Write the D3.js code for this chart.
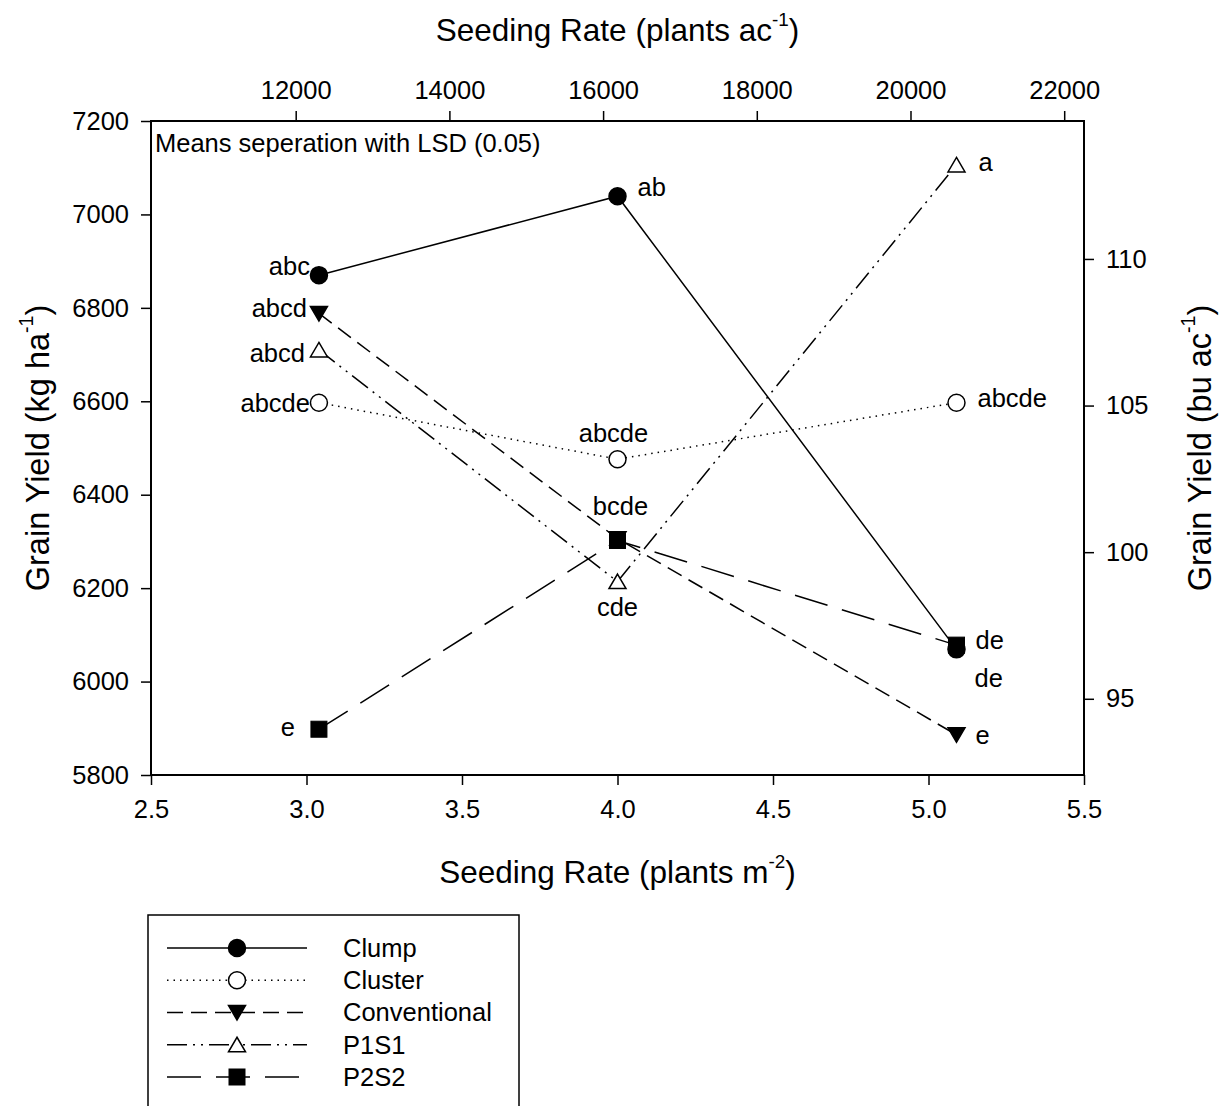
<!DOCTYPE html>
<html>
<head>
<meta charset="utf-8">
<script src="https://cdn.jsdelivr.net/npm/d3@7"></script>
<style>
  html, body { margin: 0; padding: 0; background: #fff; }
  svg { display: block; font-family: Arial, "Liberation Sans", sans-serif; }
</style>
</head>
<body>
<svg id="chart" width="1221" height="1106"></svg>
<script>
// ---------------- data ----------------
const seedingRates = [3.04, 4.0, 5.09];               // plants m^-2
const seriesNames = ["Clump", "Cluster", "Conventional", "P1S1", "P2S2"];
const clumpYield = [6870, 7039, 6069];
const clusterYield = [6597, 6476, 6597];
const conventionalYield = [6788, 6306, 5886];
const p1s1Yield = [6710, 6214, 7106];
const p2s2Yield = [5898, 6302, 6078];
const clumpLetters = ["abc", "ab", "de"];
const clusterLetters = ["abcde", "abcde", "abcde"];
const conventionalLetters = ["abcd", "", "e"];
const p1s1Letters = ["abcd", "cde", "a"];
const p2s2Letters = ["e", "bcde", "de"];
const xTickValues = [2.5, 3.0, 3.5, 4.0, 4.5, 5.0, 5.5];
const yTickValues = [5800, 6000, 6200, 6400, 6600, 6800, 7000, 7200];
const topTickValues = [12000, 14000, 16000, 18000, 20000, 22000];
const rightTickValues = [95, 100, 105, 110];
const annotationText = "Means seperation with LSD (0.05)";

// unit conversions
const PLANTS_AC_PER_M2 = 4046.86;
const KGHA_PER_BUAC = 62.77;

// ---------------- layout / styles ----------------
const L = 151, R = 1084, T = 121, B = 775;
const FS = 25.5;
const svg = d3.select("#chart");

const x = d3.scaleLinear().domain([2.5, 5.5]).range([L, R]);
const y = d3.scaleLinear().domain([5800, 7200]).range([B, T]);
const xTop = d3.scaleLinear().domain([2.5 * PLANTS_AC_PER_M2, 5.5 * PLANTS_AC_PER_M2]).range([L, R]);
const yRight = d3.scaleLinear().domain([5800 / KGHA_PER_BUAC, 7200 / KGHA_PER_BUAC]).range([B, T]);

const series = [
  { name: seriesNames[0], values: clumpYield, letters: clumpLetters, dash: null, marker: "circle", fill: "#000",
    place: [["end", -9, -9], ["start", 20, -9], ["start", 18, 29]] },
  { name: seriesNames[1], values: clusterYield, letters: clusterLetters, dash: "1.5,5", marker: "circle", fill: "#fff",
    place: [["end", -9, 0], ["middle", -4, -26], ["start", 21, -5]] },
  { name: seriesNames[2], values: conventionalYield, letters: conventionalLetters, dash: "16,8", marker: "tridown", fill: "#000",
    place: [["end", -12, -5], ["middle", 0, -34], ["start", 19, 0]] },
  { name: seriesNames[3], values: p1s1Yield, letters: p1s1Letters, dash: "20,6,2,6,2,6", marker: "triup", fill: "#fff",
    place: [["end", -14, 3], ["middle", 0, 25], ["start", 22, -3]] },
  { name: seriesNames[4], values: p2s2Yield, letters: p2s2Letters, dash: "34,15", marker: "square", fill: "#000",
    place: [["end", -24, -2], ["middle", 3, -34], ["start", 19, -5]] }
];

function drawMarker(g, type, cx, cy, fill) {
  if (type === "circle") {
    g.append("circle").attr("cx", cx).attr("cy", cy).attr("r", 8.5)
      .attr("fill", fill).attr("stroke", "#000").attr("stroke-width", 1.5);
  } else if (type === "square") {
    g.append("rect").attr("x", cx - 8).attr("y", cy - 8).attr("width", 16).attr("height", 16)
      .attr("fill", fill).attr("stroke", "#000").attr("stroke-width", 1);
  } else if (type === "triup") {
    g.append("path").attr("d", `M${cx},${cy - 7.5}L${cx + 8.5},${cy + 7}L${cx - 8.5},${cy + 7}Z`)
      .attr("fill", fill).attr("stroke", "#000").attr("stroke-width", 1.5);
  } else if (type === "tridown") {
    g.append("path").attr("d", `M${cx - 8.5},${cy - 7}L${cx + 8.5},${cy - 7}L${cx},${cy + 7.5}Z`)
      .attr("fill", fill).attr("stroke", "#000").attr("stroke-width", 1.5);
  }
}

// ---------------- axes ----------------
function styleAxis(g) {
  g.select(".domain").remove();
  g.selectAll(".tick line").attr("stroke", "#000").attr("stroke-width", 1.5);
  g.selectAll(".tick text").attr("fill", "#000").style("font-size", FS + "px")
    .style("font-family", "Arial, 'Liberation Sans', sans-serif");
}
svg.append("g").attr("transform", `translate(0,${B})`)
  .call(d3.axisBottom(x).tickValues(xTickValues).tickFormat(d3.format(".1f")).tickSize(10).tickPadding(15))
  .call(styleAxis);
svg.append("g").attr("transform", `translate(${L},0)`)
  .call(d3.axisLeft(y).tickValues(yTickValues).tickFormat(d3.format("d")).tickSize(10).tickPadding(12))
  .call(styleAxis);
svg.append("g").attr("transform", `translate(0,${T})`)
  .call(d3.axisTop(xTop).tickValues(topTickValues).tickFormat(d3.format("d")).tickSize(10).tickPadding(12))
  .call(styleAxis);
svg.append("g").attr("transform", `translate(${R},0)`)
  .call(d3.axisRight(yRight).tickValues(rightTickValues).tickFormat(d3.format("d")).tickSize(10).tickPadding(12))
  .call(styleAxis);

// frame
svg.append("rect").attr("x", L).attr("y", T).attr("width", R - L).attr("height", B - T)
  .attr("fill", "none").attr("stroke", "#000").attr("stroke-width", 2);

// axis titles with superscripts
function titleWithSup(g, main, sup, fs) {
  const t = g.append("text").attr("text-anchor", "middle").attr("fill", "#000").style("font-size", fs + "px");
  t.append("tspan").text(main);
  t.append("tspan").text(sup).style("font-size", (fs * 0.6) + "px").attr("dy", -fs * 0.48);
  t.append("tspan").text(")").attr("dy", fs * 0.48);
  return t;
}
titleWithSup(svg.append("g").attr("transform", `translate(${(L + R) / 2},41)`), "Seeding Rate (plants ac", "-1", 31.5);
titleWithSup(svg.append("g").attr("transform", `translate(${(L + R) / 2},883)`), "Seeding Rate (plants m", "-2", 31.5);
titleWithSup(svg.append("g").attr("transform", `translate(49,${(T + B) / 2}) rotate(-90)`), "Grain Yield (kg ha", "-1", 32.5);
titleWithSup(svg.append("g").attr("transform", `translate(1211,${(T + B) / 2}) rotate(-90)`), "Grain Yield (bu ac", "-1", 32.5);

// annotation
svg.append("text").attr("x", 155).attr("y", 152).attr("fill", "#000")
  .style("font-size", FS + "px").text(annotationText);

// ---------------- series ----------------
const plot = svg.append("g");
const line = d3.line().x((d, i) => x(seedingRates[i])).y(d => y(d));
series.forEach(s => {
  plot.append("path").datum(s.values).attr("d", line)
    .attr("fill", "none").attr("stroke", "#000").attr("stroke-width", 1.5)
    .attr("stroke-dasharray", s.dash);
});
series.forEach(s => {
  const g = plot.append("g");
  s.values.forEach((v, i) => drawMarker(g, s.marker, x(seedingRates[i]), y(v), s.fill));
});
series.forEach(s => {
  s.values.forEach((v, i) => {
    if (!s.letters[i]) return;
    const p = s.place[i];
    plot.append("text").attr("x", x(seedingRates[i]) + p[1]).attr("y", y(v) + p[2])
      .attr("dy", "0.35em").attr("text-anchor", p[0]).attr("fill", "#000")
      .style("font-size", FS + "px").text(s.letters[i]);
  });
});

// ---------------- legend ----------------
const lg = svg.append("g");
lg.append("rect").attr("x", 148).attr("y", 915).attr("width", 371).attr("height", 260)
  .attr("fill", "none").attr("stroke", "#000").attr("stroke-width", 1.5);
const legendY = d3.scalePoint().domain(seriesNames).range([948, 1077]);
series.forEach(s => {
  const cy = legendY(s.name);
  lg.append("line").attr("x1", 167).attr("x2", 307).attr("y1", cy).attr("y2", cy)
    .attr("stroke", "#000").attr("stroke-width", 1.5).attr("stroke-dasharray", s.dash);
  drawMarker(lg, s.marker, 237, cy, s.fill);
  lg.append("text").attr("x", 343).attr("y", cy).attr("dy", "0.35em").attr("fill", "#000")
    .style("font-size", FS + "px").text(s.name);
});
</script>
</body>
</html>
